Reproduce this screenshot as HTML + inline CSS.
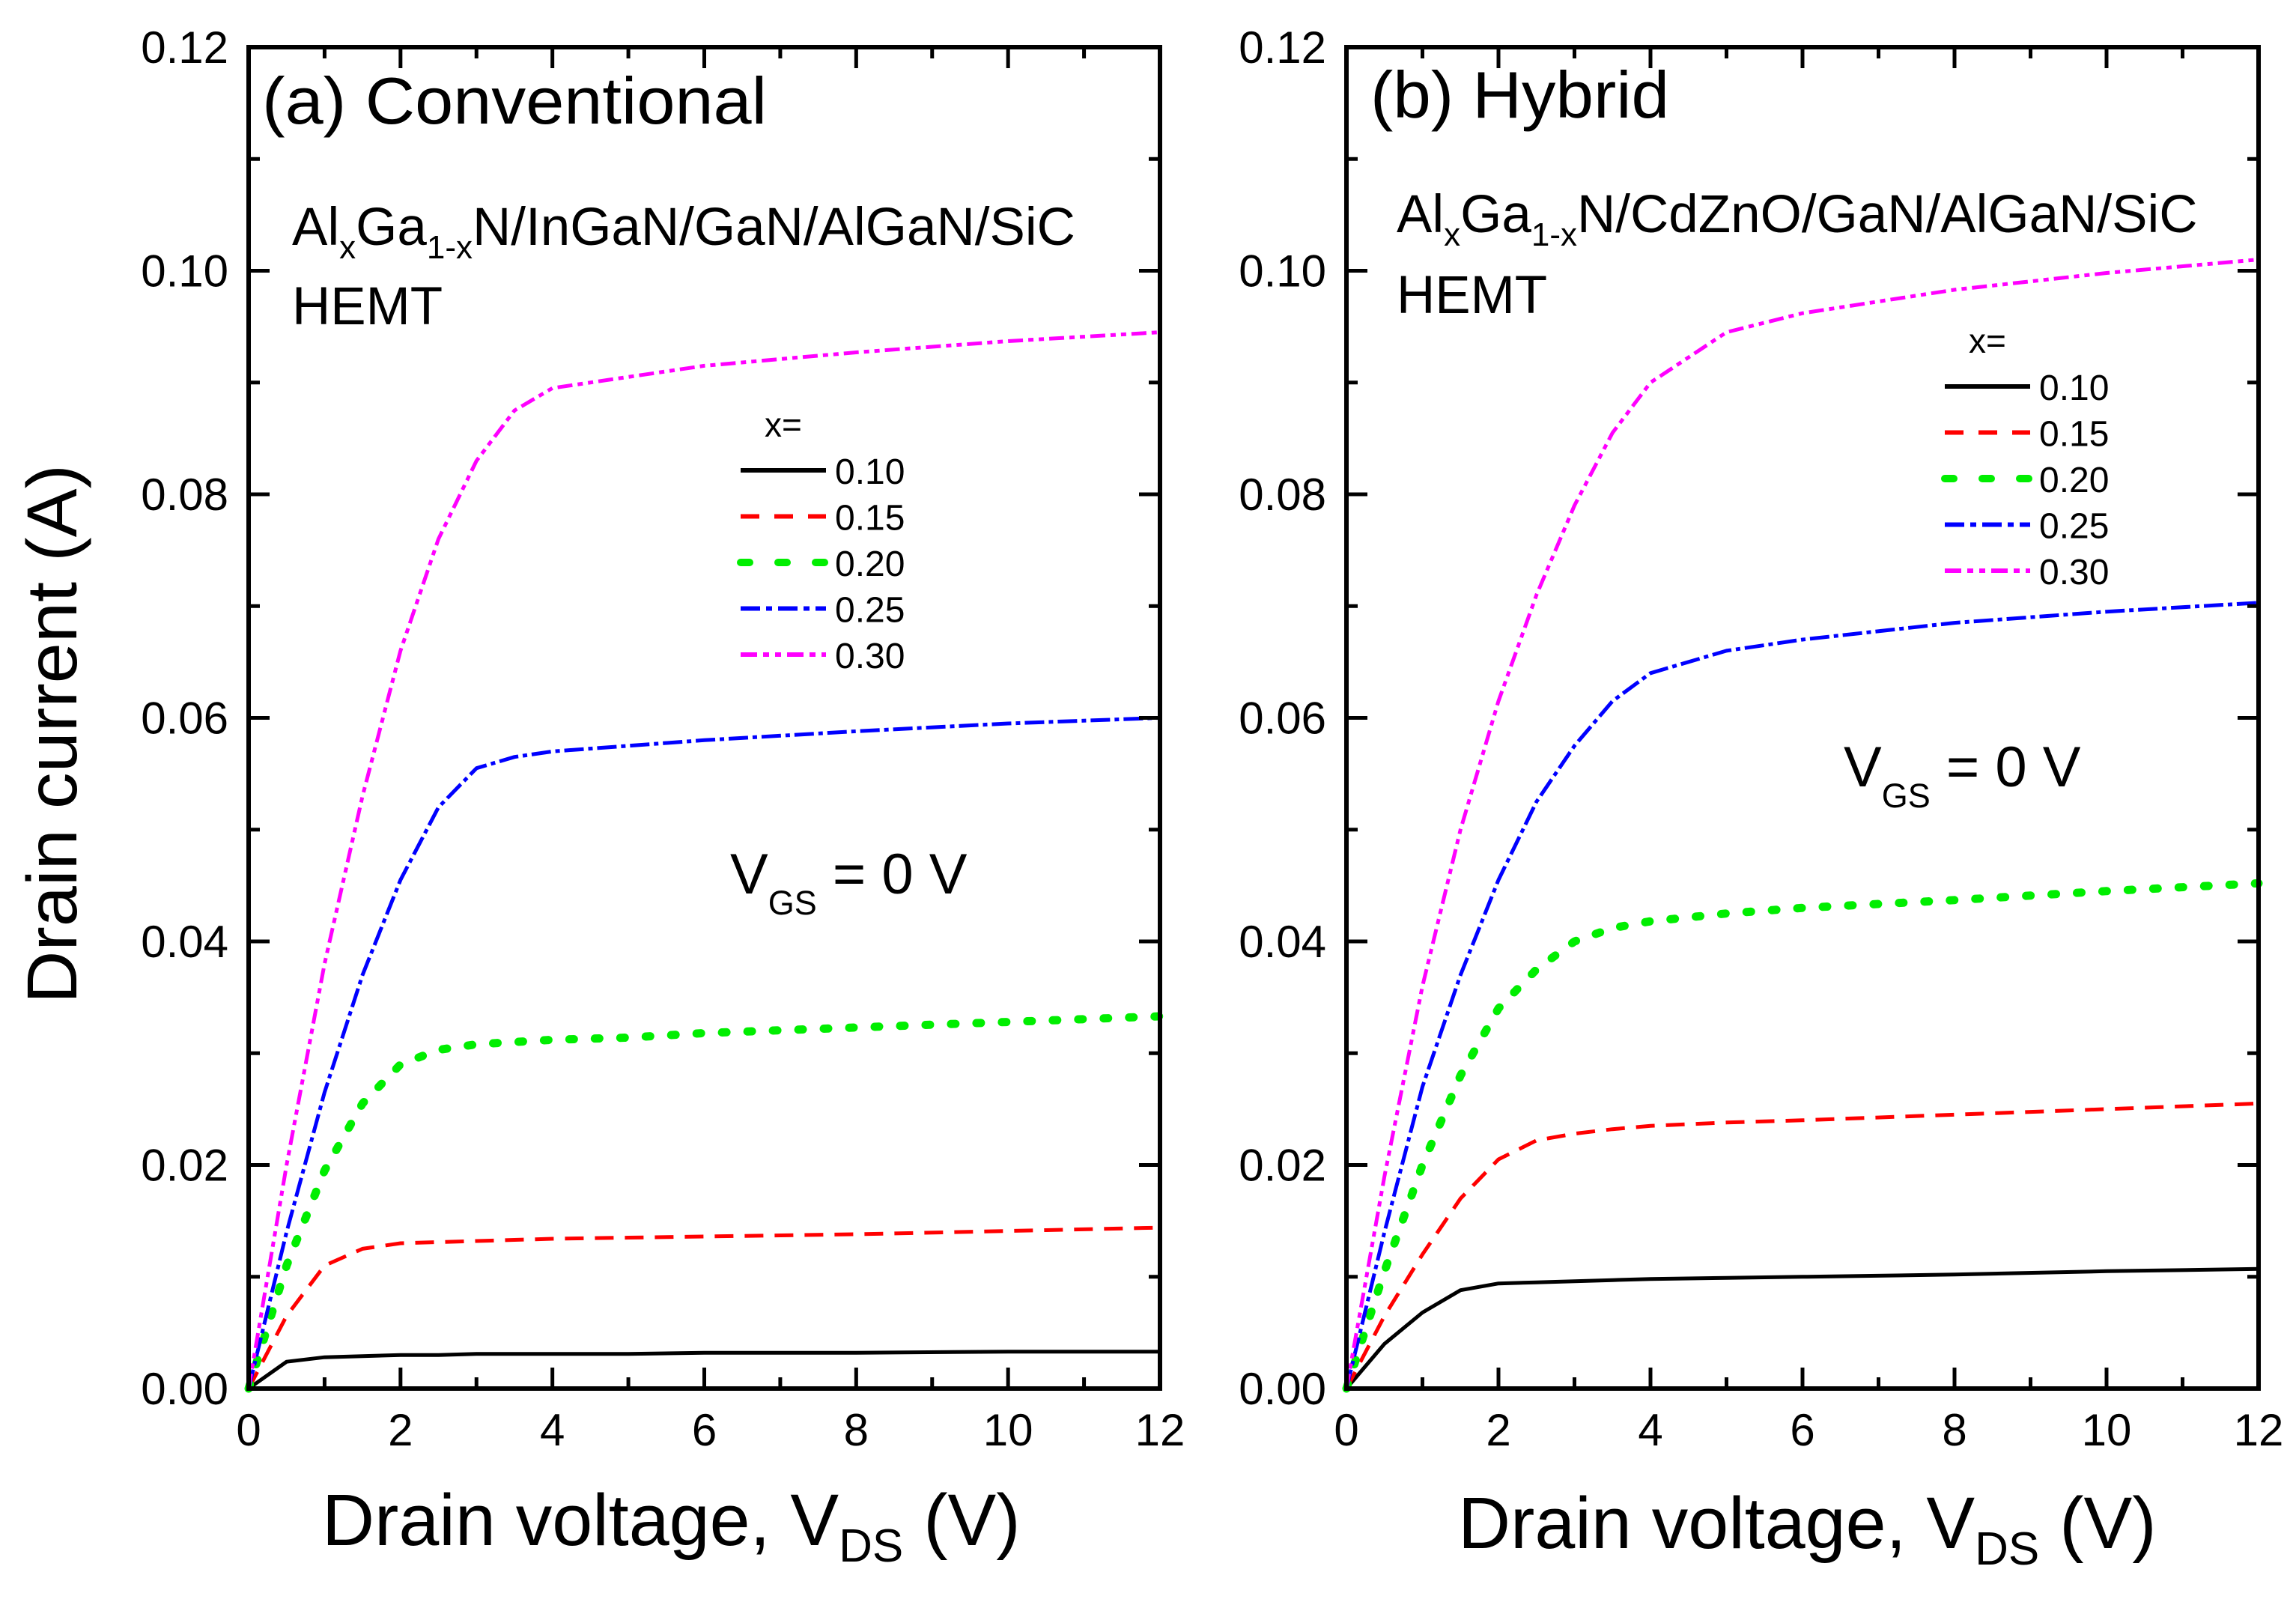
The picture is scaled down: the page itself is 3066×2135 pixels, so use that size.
<!DOCTYPE html>
<html><head><meta charset="utf-8"><style>
html,body{margin:0;padding:0;background:#fff;}
svg{display:block;font-family:"Liberation Sans",Arial,sans-serif;}
</style></head><body>
<svg id="fig" xmlns="http://www.w3.org/2000/svg" width="3066" height="2135" viewBox="0 0 3066 2135">
<rect width="3066" height="2135" fill="#fff"/>
<g id="pa"></g>
<g id="pb"></g>
<text transform="translate(102,980) rotate(-90)" text-anchor="middle" font-size="95" textLength="720" lengthAdjust="spacingAndGlyphs">Drain current (A)</text>
<text x="430" y="2063" font-size="97">Drain voltage, V<tspan font-size="62" dy="22">DS</tspan><tspan dy="-22"> (V)</tspan></text>
<text x="1947" y="2067" font-size="97">Drain voltage, V<tspan font-size="62" dy="22">DS</tspan><tspan dy="-22"> (V)</tspan></text>
<text x="350" y="165" font-size="88" textLength="674" lengthAdjust="spacingAndGlyphs">(a) Conventional</text>
<text x="1830" y="157" font-size="88" textLength="399" lengthAdjust="spacingAndGlyphs">(b) Hybrid</text>
<text x="390" y="327" font-size="71">Al<tspan font-size="44" dy="18">x</tspan><tspan dy="-18">Ga</tspan><tspan font-size="44" dy="18">1-x</tspan><tspan dy="-18">N/InGaN/GaN/AlGaN/SiC</tspan></text>
<text x="390" y="433" font-size="71">HEMT</text>
<text x="1865" y="310" font-size="71">Al<tspan font-size="44" dy="18">x</tspan><tspan dy="-18">Ga</tspan><tspan font-size="44" dy="18">1-x</tspan><tspan dy="-18">N/CdZnO/GaN/AlGaN/SiC</tspan></text>
<text x="1865" y="418" font-size="71">HEMT</text>
<text x="975" y="1193" font-size="76">V<tspan font-size="45" dy="28">GS</tspan><tspan dy="-28"> = 0 V</tspan></text>
<text x="2462" y="1050" font-size="76">V<tspan font-size="45" dy="28">GS</tspan><tspan dy="-28"> = 0 V</tspan></text>
</svg>
<script>
const NS="http://www.w3.org/2000/svg";
const xTicks=[0,2,4,6,8,10,12];
const yTicks=[0,0.02,0.04,0.06,0.08,0.10,0.12];
const yTickLabels=["0.00","0.02","0.04","0.06","0.08","0.10","0.12"];
const compositions=["0.10","0.15","0.20","0.25","0.30"];
const vds=[0,0.5,1,1.5,2,2.5,3,3.5,4,5,6,8,10,12];
// panel a (conventional)
const a010=[0,0.0024,0.0028,0.0029,0.0030,0.0030,0.0031,0.0031,0.0031,0.0031,0.0032,0.0032,0.0033,0.0033];
const a015=[0,0.0065,0.0110,0.0125,0.0130,0.0131,0.0132,0.0133,0.0134,0.0135,0.0136,0.0138,0.0141,0.0144];
const a020=[0,0.0110,0.0195,0.0255,0.0290,0.0303,0.0308,0.0310,0.0312,0.0314,0.0318,0.0323,0.0328,0.0333];
const a025=[0,0.0140,0.0265,0.0370,0.0455,0.0520,0.0555,0.0565,0.0570,0.0575,0.0580,0.0588,0.0595,0.0600];
const a030=[0,0.0200,0.0380,0.0530,0.0660,0.0760,0.0830,0.0875,0.0895,0.0905,0.0915,0.0927,0.0937,0.0945];
// panel b (hybrid)
const b010=[0,0.0040,0.0068,0.0088,0.0094,0.0095,0.0096,0.0097,0.0098,0.0099,0.0100,0.0102,0.0105,0.0107];
const b015=[0,0.0065,0.0120,0.0170,0.0205,0.0222,0.0228,0.0232,0.0235,0.0238,0.0240,0.0245,0.0250,0.0255];
const b020=[0,0.0105,0.0200,0.0280,0.0340,0.0375,0.0400,0.0412,0.0418,0.0425,0.0430,0.0437,0.0445,0.0452];
const b025=[0,0.0140,0.0270,0.0370,0.0455,0.0525,0.0575,0.0615,0.0640,0.0660,0.0670,0.0685,0.0695,0.0703];
const b030=[0,0.0190,0.0360,0.0500,0.0615,0.0710,0.0790,0.0855,0.0900,0.0945,0.0962,0.0983,0.0998,0.1010];

const styles=[
 {c:"#000",w:5,d:"",cap:"butt"},
 {c:"#ff0000",w:5,d:"25 15",cap:"butt"},
 {c:"#00ee00",w:11,d:"6 28",cap:"round"},
 {c:"#0000ff",w:5,d:"26 6 6 6",cap:"butt"},
 {c:"#ff00ff",w:5,d:"20 7 7 7 7 7",cap:"butt"}
];
function el(tag,attrs,parent){const e=document.createElementNS(NS,tag);for(const k in attrs)e.setAttribute(k,attrs[k]);parent.appendChild(e);return e;}

function panel(g,X0,X1,series,leg,name){
 const Y0=1854,Y1=63;
 const sx=v=>X0+(v/12)*(X1-X0);
 const sy=v=>Y0-(v/0.12)*(Y0-Y1);
 series.forEach((s,i)=>{
  const st=styles[i];
  const d=vds.map((v,j)=>(j?"L":"M")+sx(v).toFixed(1)+","+sy(s[j]).toFixed(1)).join(" ");
  const p=el("path",{d:d,fill:"none",stroke:st.c,"stroke-width":st.w,"stroke-dasharray":st.d,"stroke-linecap":st.cap,"stroke-linejoin":"round"},g);
  
  
 });
 const fr=el("rect",{x:X0,y:Y1,width:X1-X0,height:Y0-Y1,fill:"none",stroke:"#000","stroke-width":6},g);
 
 
 for(let v=0;v<=12;v+=1){
  const L=(v%2===0)?28:15;
  const x=sx(v);
  const t=el("path",{d:`M${x},${Y0}v${-L}M${x},${Y1}v${L}`,stroke:"#000","stroke-width":5},g);
  
  
 }
 xTicks.forEach(v=>{
  const t=el("text",{x:sx(v),y:1930,"text-anchor":"middle","font-size":60},g);
  t.textContent=String(v);
  
  
 });
 for(let k=0;k<=12;k++){
  const v=k*0.01;const L=(k%2===0)?28:15;const y=sy(v);
  const t=el("path",{d:`M${X0},${y}h${L}M${X1},${y}h${-L}`,stroke:"#000","stroke-width":5},g);
  
  
 }
 yTicks.forEach((v,i)=>{
  const t=el("text",{x:X0-27,y:sy(v)+21,"text-anchor":"end","font-size":60},g);
  t.textContent=yTickLabels[i];
  
  
 });
 const lg=el("g",{},g);
 
 
 const hx=el("text",{x:leg.x+32,y:leg.y-45,"font-size":46},lg);
 hx.textContent="x=";
 
 
 compositions.forEach((c,i)=>{
  const st=styles[i];const y=leg.y+i*61.5;
  const l=el("line",{x1:leg.x,y1:y,x2:leg.x+114,y2:y,stroke:st.c,"stroke-width":i==2?10:6,"stroke-dasharray":i==2?"12 38":(i==1?"25 20":(i==3?"26 8 8 8":(i==4?"22 8 8 8 8 8":""))),"stroke-linecap":i==2?"round":"butt"},lg);
  
  
  const t=el("text",{x:leg.x+126,y:y+18,"font-size":48},lg);
  t.textContent=c;
  
  
 });
}
panel(document.getElementById("pa"),332,1549,[a010,a015,a020,a025,a030],{x:989,y:628},"a");
panel(document.getElementById("pb"),1798,3016,[b010,b015,b020,b025,b030],{x:2597,y:516},"b");
</script>
</body></html>
